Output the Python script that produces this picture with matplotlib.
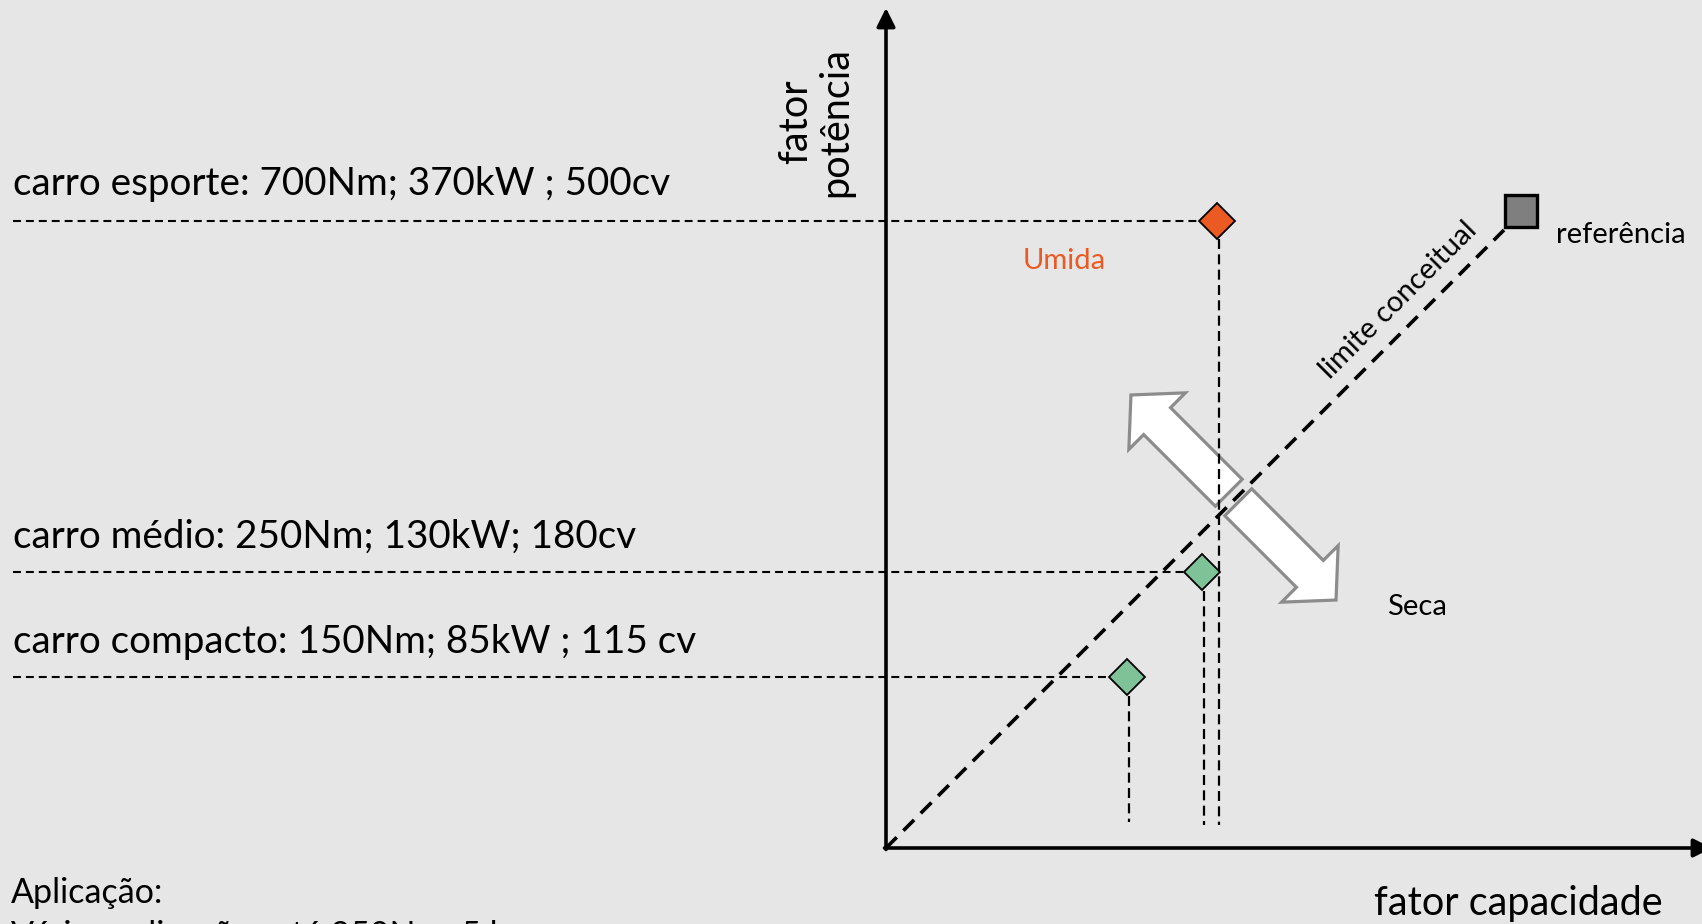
import numpy as np
import matplotlib
matplotlib.use('Agg')
import matplotlib.pyplot as plt
from matplotlib.patches import Polygon

plt.rcParams['font.family'] = ['Lato', 'DejaVu Sans']

# conceptual positions (fator capacidade, fator potencia), arbitrary units
car_labels = ['carro esporte: 700Nm; 370kW ; 500cv',
              'carro médio: 250Nm; 130kW; 180cv',
              'carro compacto: 150Nm; 85kW ; 115 cv']
car_x = [33.1, 31.6, 24.1]
car_y = [62.7, 27.6, 17.1]
car_colors = ['#eb5a22', '#7fc298', '#7fc298']
label_y = [65.3, 30.0, 19.5]
vline_bottom = [2.3, 2.3, 2.6]
ref_x, ref_y = 63.5, 63.7
limit_end = 61.8

bg = '#e6e6e6'
fig = plt.figure(figsize=(17.02, 9.24), dpi=100, facecolor=bg)
ax = fig.add_axes([0, 0, 1, 1])
ax.set_facecolor(bg)
ax.set_xlim(-88.6, 81.6)
ax.set_ylim(-7.6, 84.8)
ax.axis('off')

# axes with arrows
ax.annotate('', xy=(0, 84.0), xytext=(0, -0.15), annotation_clip=False,
            arrowprops=dict(arrowstyle='-|>', lw=2.6, color='black', mutation_scale=28, shrinkA=0, shrinkB=0))
ax.annotate('', xy=(82.6, 0), xytext=(-0.15, 0), annotation_clip=False,
            arrowprops=dict(arrowstyle='-|>', lw=2.6, color='black', mutation_scale=28, shrinkA=0, shrinkB=0))

# double arrow (Umida <-> Seca), split where the limit line crosses
c = np.array([34.75, 35.05])
u = np.array([1.0, -1.0]) / np.sqrt(2)
v = np.array([1.0, 1.0]) / np.sqrt(2)
L, h, H, w, g = 14.5, 3.7, 4.0, 1.9, 0.67
for s in (-1, 1):
    d = s * u
    pts = [c + L * d,
           c + (L - h) * d + H * v,
           c + (L - h) * d + w * v,
           c + g * d + w * v,
           c + g * d - w * v,
           c + (L - h) * d - w * v,
           c + (L - h) * d - H * v]
    ax.add_patch(Polygon(pts, closed=True, facecolor='white', edgecolor='#8c8c8c', lw=2.3, zorder=3, joinstyle='miter'))

# dashed guide lines
for x, y, yb, col in zip(car_x, car_y, vline_bottom, car_colors):
    half = 1.85
    ax.plot([-87.3, x - half], [y, y], color='black', lw=1.5, dashes=(3.8, 2.4), zorder=4)
    ax.plot([x + 0.2, x + 0.2], [y - half, yb], color='black', lw=1.6, dashes=(4.5, 2.4), zorder=4)

# limit line
ax.plot([0, limit_end], [0, limit_end], color='black', lw=2.6, dashes=(4.2, 2.6), zorder=5)

# markers
for x, y, col in zip(car_x, car_y, car_colors):
    ax.plot(x, y, marker='D', ms=18.5, mfc=col, mec='black', mew=1.3, zorder=6)
ax.plot(ref_x, ref_y, marker='s', ms=23, mfc='#7f7f7f', mec='black', mew=2.4, zorder=6)

# texts
for lab, ly in zip(car_labels, label_y):
    ax.text(-87.3, ly, lab, fontsize=27.8, ha='left', va='baseline')
ax.text(-87.5, -5.5, 'Aplicação:', fontsize=24.5, ha='left', va='baseline')
ax.text(-87.5, -9.8, 'Várias aplicações até 250Nm; 5 lugares', fontsize=24.5, ha='left', va='baseline')
ax.text(63.2, -6.7, 'fator capacidade', fontsize=28.5, ha='center', va='baseline')
ax.text(-7.0, 72.6, 'fator\npotência', fontsize=28.5, ha='center', va='center',
        rotation=90, multialignment='center', linespacing=1.1)
ax.text(17.8, 58.7, 'Umida', fontsize=21, color='#eb5a22', ha='center', va='center')
ax.text(53.1, 24.1, 'Seca', fontsize=21, ha='center', va='center')
ax.text(67.0, 61.3, 'referência', fontsize=21, ha='left', va='center')
ax.text(51.2, 54.8, 'limite conceitual', fontsize=21, ha='center', va='center',
        rotation=45, rotation_mode='anchor')

fig.savefig('out.png', dpi=100, facecolor=bg)
